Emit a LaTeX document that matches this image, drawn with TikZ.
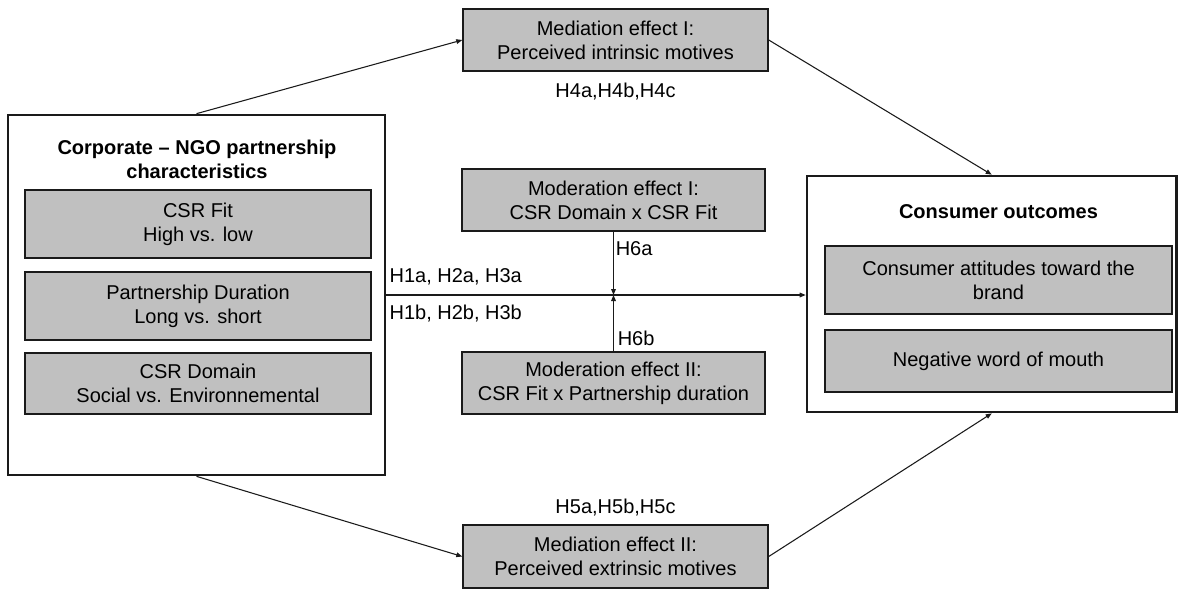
\documentclass[tikz,border=0pt]{standalone}
\usepackage{fontspec}
\setmainfont{Liberation Sans}
\usetikzlibrary{arrows.meta,calc}
\definecolor{boxgray}{HTML}{C0C0C0}
\definecolor{edgegray}{HTML}{1A1A1A}
\begin{document}
\begin{tikzpicture}[x=0.75pt,y=-0.75pt,
  font=\fontsize{15}{18}\selectfont,
  outerbox/.style={draw=edgegray,line width=2pt,inner sep=0pt},
  graybox/.style={draw=edgegray,fill=boxgray,line width=1.1pt,align=center,inner sep=0pt},
  conn/.style={draw=edgegray,line width=0.8pt,-{Triangle[length=4.5pt,width=3.5pt]}},
  lbl/.style={inner sep=0pt,align=center}
]
\useasboundingbox (0,0) rectangle (1178,590);

% left block
\node[outerbox,minimum width=282.75pt,minimum height=270pt] (L) at (196.5,295) {};
\node[lbl,font=\fontsize{15}{18.5}\selectfont\bfseries] (LT) at (197,159.5) {Corporate – NGO partnership\\characteristics};
\node[graybox,minimum width=259.5pt,minimum height=51pt] (F1) at (198,224) {CSR Fit\\High vs. low};
\node[graybox,minimum width=259.5pt,minimum height=51pt] (F2) at (198,306) {Partnership Duration\\Long vs. short};
\node[graybox,minimum width=259.5pt,minimum height=45.75pt] (F3) at (198,383.5) {CSR Domain\\Social vs. Environnemental};

% middle boxes
\node[graybox,minimum width=228.75pt,minimum height=46.5pt] (M1) at (615.5,40) {Mediation effect I:\\Perceived intrinsic motives};
\node[graybox,minimum width=227.25pt,minimum height=46.5pt] (D1) at (613.5,200) {Moderation effect I:\\CSR Domain x CSR Fit};
\node[graybox,minimum width=227.25pt,minimum height=46.5pt] (D2) at (613.5,383) {Moderation effect II:\\CSR Fit x Partnership duration};
\node[graybox,minimum width=228.75pt,minimum height=47.25pt] (M2) at (615.5,556.5) {Mediation effect II:\\Perceived extrinsic motives};

% right block
\node[outerbox,minimum width=277.1pt,minimum height=177pt] (C) at (991.75,294) {};
\node[lbl,font=\fontsize{15}{18}\selectfont\bfseries] (CT) at (998.5,212) {Consumer outcomes};
\node[graybox,minimum width=260.25pt,minimum height=51pt] (C1) at (998.5,280) {Consumer attitudes toward the\\brand};
\node[graybox,minimum width=260.25pt,minimum height=46.5pt] (C2) at (998.5,361) {Negative word of mouth};

% connectors
\draw[conn] (L.north) -- (M1.west);
\draw[conn] (M1.east) -- (C.north);
\draw[conn] (L.south) -- (M2.west);
\draw[conn] (M2.east) -- (C.south);
\coordinate (X) at (D1.south |- L.east);
\draw[conn] (L.east) -- (L.east -| C.west);
\draw[conn] (D1.south) -- (X);
\draw[conn] (D2.north) -- (X);

% labels
\node[lbl,anchor=west] (H1) at ($(L.east)+(3,-18)$) {H1a, H2a, H3a};
\node[lbl,anchor=west] (H1b) at ($(L.east)+(3,19)$) {H1b, H2b, H3b};
\node[lbl,anchor=west] (H6a) at ($(X)+(2,-46)$) {H6a};
\node[lbl,anchor=west] (H6b) at ($(X)+(4,43)$) {H6b};
\node[lbl] (H4) at ($(M1.south)+(0,20)$) {H4a,H4b,H4c};
\node[lbl] (H5) at ($(M2.north)+(0,-17)$) {H5a,H5b,H5c};
\end{tikzpicture}
\end{document}
